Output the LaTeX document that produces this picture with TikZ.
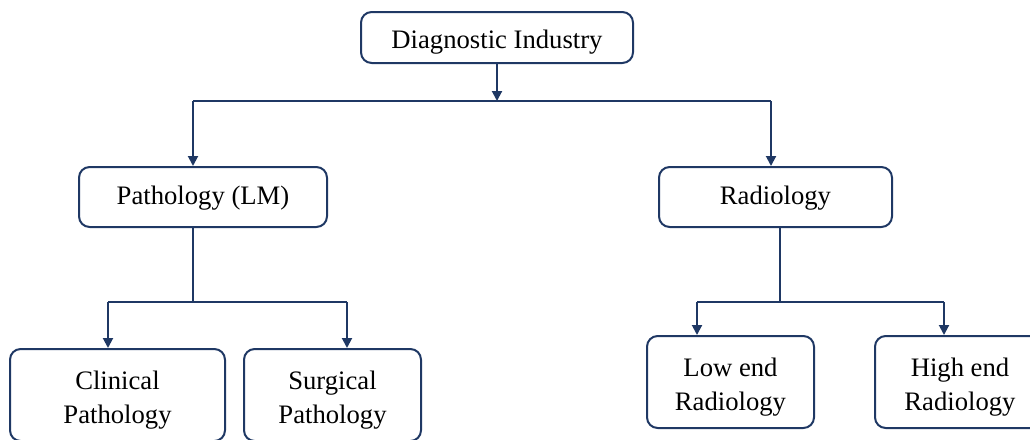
\documentclass[tikz,border=0pt]{standalone}
\usepackage{fontspec}
\setmainfont{Liberation Serif}
\usetikzlibrary{arrows.meta}
\definecolor{navy}{HTML}{1F3864}
\newcommand\shiftdown[2]{\raisebox{-#1}[\height][\depth]{#2}}
\begin{document}
\begin{tikzpicture}[x=0.75pt,y=-0.75pt,
  box/.style={draw=navy, line width=1.5pt, rounded corners=8pt, align=center, inner sep=0pt, font=\fontsize{20}{25.5}\selectfont, text=black},
  conn/.style={draw=navy, line width=1.5pt},
  arr/.style={conn, -{Triangle[length=7.5pt,width=7.5pt]}}]
\useasboundingbox (0,0) rectangle (1030,439);
\node[box, minimum width=204pt, minimum height=38.25pt] (top) at (497,37.5) {\shiftdown{3.5pt}{Diagnostic Industry}};
\node[box, minimum width=186pt, minimum height=45pt] (path) at (203,197) {\shiftdown{0.75pt}{Pathology (LM)}};
\node[box, minimum width=174.75pt, minimum height=45pt] (radio) at (775.5,197) {\shiftdown{0.75pt}{Radiology}};
\node[box, minimum width=161.25pt, minimum height=69pt] (clin) at (117.5,395) {\shiftdown{3.75pt}{\begin{tabular}{@{}c@{}}Clinical\\Pathology\end{tabular}}};
\node[box, minimum width=132.75pt, minimum height=69pt] (surg) at (332.5,395) {\shiftdown{3.75pt}{\begin{tabular}{@{}c@{}}Surgical\\Pathology\end{tabular}}};
\node[box, minimum width=125.25pt, minimum height=69pt] (low) at (730.5,382) {\shiftdown{3.75pt}{\begin{tabular}{@{}c@{}}Low end\\Radiology\end{tabular}}};
\node[box, minimum width=127.5pt, minimum height=69pt] (high) at (960,382) {\shiftdown{3.75pt}{\begin{tabular}{@{}c@{}}High end\\Radiology\end{tabular}}};
% level 1
\coordinate (j0) at (497,101);
\coordinate (jl) at (193,101);
\coordinate (jr) at (771,101);
\draw[arr] (top) -- (j0);
\draw[conn] (jl) -- (jr);
\draw[arr] (jl) -- (jl |- path.north);
\draw[arr] (jr) -- (jr |- radio.north);
% pathology
\coordinate (pj) at (193,302);
\coordinate (pjl) at (108,302);
\coordinate (pjr) at (347,302);
\draw[conn] (pj |- path.south) -- (pj);
\draw[conn] (pjl) -- (pjr);
\draw[arr] (pjl) -- (pjl |- clin.north);
\draw[arr] (pjr) -- (pjr |- surg.north);
% radiology
\coordinate (rj) at (780,302);
\coordinate (rjl) at (697,302);
\coordinate (rjr) at (944,302);
\draw[conn] (rj |- radio.south) -- (rj);
\draw[conn] (rjl) -- (rjr);
\draw[arr] (rjl) -- (rjl |- low.north);
\draw[arr] (rjr) -- (rjr |- high.north);
\end{tikzpicture}
\end{document}
